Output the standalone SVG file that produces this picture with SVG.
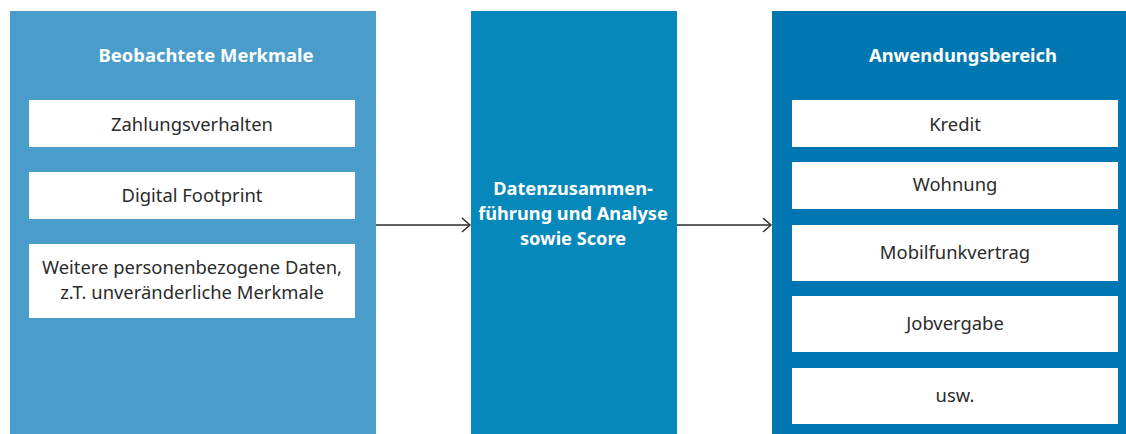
<svg xmlns="http://www.w3.org/2000/svg" width="1126" height="434" viewBox="0 0 1126 434">
<defs>
<style>
.item{fill:#ffffff}
.t{font-family:"Noto Sans","Open Sans",sans-serif;font-size:18.4px;fill:#2b2b2b;text-anchor:middle}
.h{font-family:"Noto Sans","Open Sans",sans-serif;font-size:18.4px;font-weight:bold;fill:#ffffff;text-anchor:middle}
.m{font-size:18.2px}
.conn{stroke:#2b2b2b;stroke-width:1.3;fill:none}
</style>
<marker id="arr" markerWidth="12" markerHeight="16" refX="11" refY="8" orient="auto" markerUnits="userSpaceOnUse">
<path d="M3,1 L11,8 L3,15" fill="none" stroke="#2b2b2b" stroke-width="1.5"/>
</marker>
</defs>
<rect width="1126" height="434" fill="#ffffff"/>
<g id="beobachtete">
<rect x="10" y="11" width="366" height="423" fill="#4a9dcb"/>
<text class="h" x="206" y="62">Beobachtete Merkmale</text>
<rect class="item" x="29" y="100" width="326" height="47"/>
<text class="t" x="192" y="131">Zahlungsverhalten</text>
<rect class="item" x="29" y="172" width="326" height="47"/>
<text class="t" x="192" y="202">Digital Footprint</text>
<rect class="item" x="29" y="244" width="326" height="74"/>
<text class="t" x="192" y="274">Weitere personenbezogene Daten,</text>
<text class="t" x="192" y="299">z.T. unveränderliche Merkmale</text>
</g>
<g id="analyse">
<rect x="471" y="11" width="206" height="423" fill="#0788bb"/>
<text class="h m" x="573" y="195">Datenzusammen-</text>
<text class="h m" x="573" y="220">führung und Analyse</text>
<text class="h m" x="573" y="245">sowie Score</text>
</g>
<g id="anwendung">
<rect x="772" y="11" width="354" height="423" fill="#0077b0"/>
<text class="h" x="963" y="62">Anwendungsbereich</text>
<rect class="item" x="792" y="100" width="326" height="47"/>
<text class="t" x="955" y="131">Kredit</text>
<rect class="item" x="792" y="162" width="326" height="47"/>
<text class="t" x="955" y="191">Wohnung</text>
<rect class="item" x="792" y="225" width="326" height="56"/>
<text class="t" x="955" y="259">Mobilfunkvertrag</text>
<rect class="item" x="792" y="296" width="326" height="56"/>
<text class="t" x="955" y="330">Jobvergabe</text>
<rect class="item" x="792" y="368" width="326" height="56"/>
<text class="t" x="955" y="402">usw.</text>
</g>
<g id="connectors">
<line class="conn" x1="376" y1="225" x2="470" y2="225" marker-end="url(#arr)"/>
<line class="conn" x1="677" y1="225" x2="771" y2="225" marker-end="url(#arr)"/>
</g>
</svg>
